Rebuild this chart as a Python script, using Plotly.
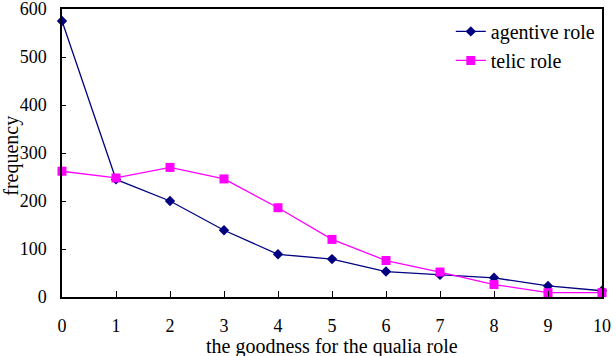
import plotly.graph_objects as go

x_vals = [0, 1, 2, 3, 4, 5, 6, 7, 8, 9, 10]
agentive = [575, 245, 200, 139, 89, 79, 53, 46, 40, 23, 13]
telic = [262, 248, 270, 246, 186, 120, 76, 52, 26, 9, 9]
y_ticks = [0, 100, 200, 300, 400, 500, 600]

font_family = "Liberation Serif"
fs = 20
tfs = 18

fig = go.Figure()
fig.add_trace(go.Scatter(
    x=x_vals, y=agentive, name="agentive role", mode="lines+markers",
    line=dict(color="#000080", width=1.3),
    marker=dict(symbol="diamond", size=8, color="#000080"),
    cliponaxis=False,
))
fig.add_trace(go.Scatter(
    x=x_vals, y=telic, name="telic role", mode="lines+markers",
    line=dict(color="#FF00FF", width=1.3),
    marker=dict(symbol="square", size=9, color="#FF00FF"),
    cliponaxis=False,
))

fig.update_layout(
    template="none",
    width=616, height=356,
    margin=dict(l=62, r=14, t=9, b=59, autoexpand=False),
    paper_bgcolor="white", plot_bgcolor="white",
    font=dict(family=font_family, size=fs, color="black"),
    showlegend=True,
    legend=dict(x=0.72, y=0.99, xanchor="left", yanchor="top",
                bgcolor="rgba(0,0,0,0)", font=dict(family=font_family, size=fs),
                itemwidth=30, tracegroupgap=0),
    xaxis=dict(range=[0, 10], tickvals=x_vals, showgrid=False, zeroline=False,
               showline=True, linecolor="black", linewidth=1.5, mirror=True,
               ticks="inside", ticklen=6, tickcolor="black", automargin=False,
               ticklabeloverflow="allow",
               tickfont=dict(family=font_family, size=tfs), ticklabelstandoff=12),
    yaxis=dict(range=[0, 600], tickvals=y_ticks, showgrid=False, zeroline=False,
               showline=True, linecolor="black", linewidth=1.5, mirror=True,
               ticks="inside", ticklen=4, tickcolor="black", automargin=False,
               ticklabeloverflow="allow",
               tickfont=dict(family=font_family, size=tfs), ticklabelstandoff=10),
    annotations=[
        dict(text="frequency", xref="paper", yref="paper", x=-0.095, y=0.5,
             xanchor="center", yanchor="middle", textangle=-90, showarrow=False,
             font=dict(family=font_family, size=fs), yshift=-3),
        dict(text="the goodness for the qualia role", xref="paper", yref="paper",
             x=0.5, y=0, xanchor="center", yanchor="top", showarrow=False,
             font=dict(family=font_family, size=fs), yshift=-36),
    ],
)

fig.write_html("out.html")
